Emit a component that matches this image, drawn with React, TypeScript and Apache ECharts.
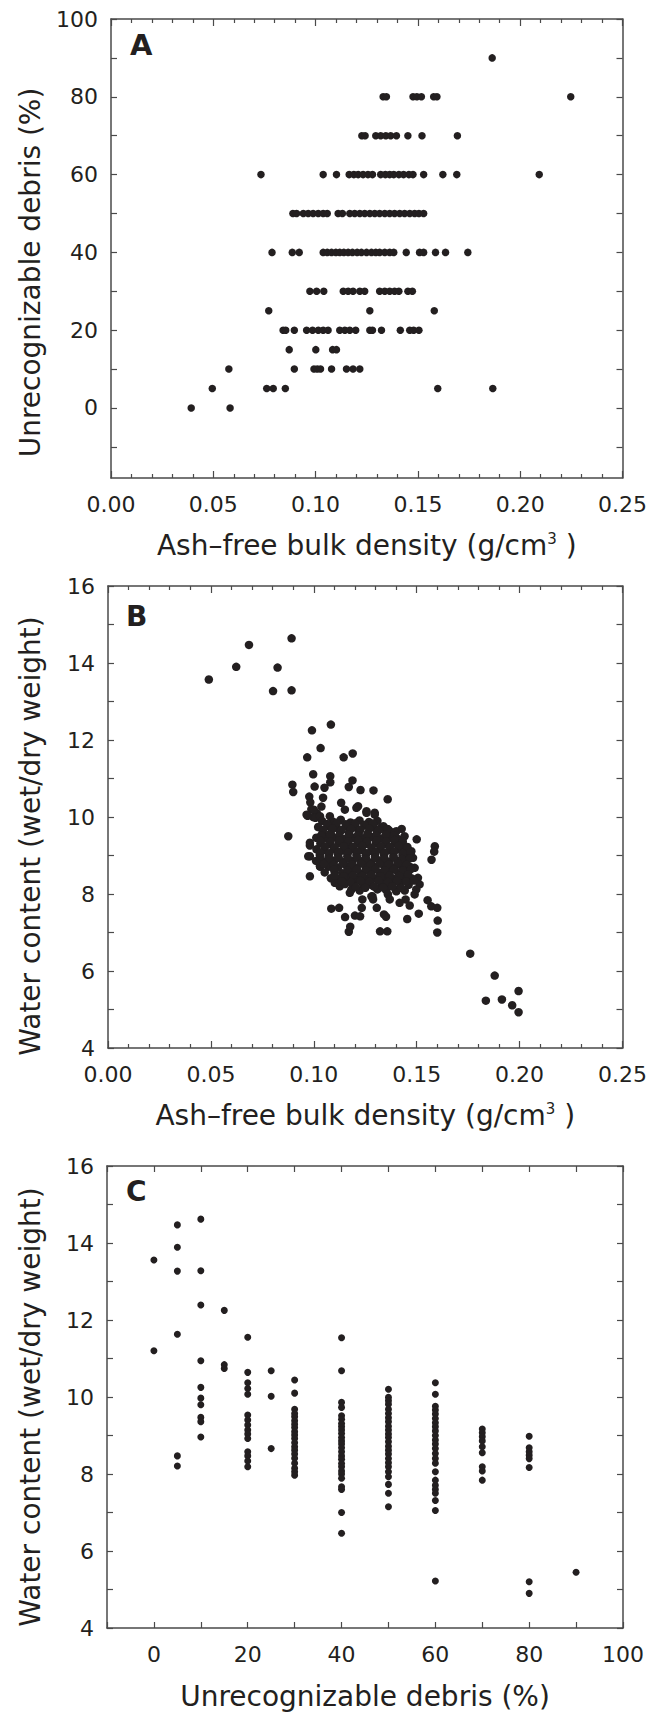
import React, { useEffect, useRef } from 'react';
import * as echarts from 'echarts';

const FONT = '"DejaVu Sans", "Liberation Sans", Arial, sans-serif';
const INK = '#231f20';
const LINE = '#4a4a4a';

// ---------- Panel A: unrecognizable debris (%) vs ash-free bulk density ----------
const debrisLevelsA = [0, 5, 10, 15, 20, 25, 30, 40, 50, 60, 70, 80, 90];
const densityByLevelA = [
  [0.0392, 0.0582],
  [0.0495, 0.0761, 0.0793, 0.0852, 0.1597, 0.1866],
  [0.0576, 0.0896, 0.0992, 0.1008, 0.1024, 0.1078, 0.1151, 0.1183, 0.1216],
  [0.0871, 0.1001, 0.1083, 0.1102],
  [0.0841, 0.0854, 0.0896, 0.0956, 0.0985, 0.1013, 0.1037, 0.1061, 0.1118, 0.1143, 0.1167, 0.1196, 0.1265, 0.1278, 0.1322, 0.1414, 0.146, 0.1479, 0.1505],
  [0.0771, 0.1265, 0.158],
  [0.0972, 0.1005, 0.104, 0.1135, 0.1159, 0.1183, 0.1216, 0.124, 0.1313, 0.1338, 0.1362, 0.1386, 0.1407, 0.1451, 0.1473],
  [0.0787, 0.0886, 0.092, 0.1037, 0.1057, 0.1078, 0.1099, 0.1118, 0.1138, 0.1159, 0.118, 0.1203, 0.1224, 0.1249, 0.1273, 0.1294, 0.1313, 0.1338, 0.1362, 0.1382, 0.1443, 0.1508, 0.1528, 0.1586, 0.1635, 0.1744],
  [0.0889, 0.0907, 0.094, 0.0964, 0.0988, 0.1013, 0.1037, 0.1057, 0.111, 0.1131, 0.1167, 0.1191, 0.1216, 0.124, 0.1265, 0.1289, 0.1313, 0.1338, 0.1362, 0.1386, 0.1411, 0.1435, 0.146, 0.1484, 0.1505, 0.1528],
  [0.0733, 0.1037, 0.1102, 0.1164, 0.1187, 0.1208, 0.1232, 0.1256, 0.1278, 0.1318, 0.1341, 0.1362, 0.1382, 0.1407, 0.143, 0.1456, 0.1476, 0.1528, 0.1622, 0.169, 0.2093],
  [0.1226, 0.1242, 0.1294, 0.1318, 0.1343, 0.1367, 0.1395, 0.1451, 0.152, 0.1693],
  [0.133, 0.1346, 0.1476, 0.1495, 0.1517, 0.1577, 0.1593, 0.2247],
  [0.1863],
];

// ---------- Panel B: water content vs ash-free bulk density ([density, water]) ----------
const waterVsDensityB: [number, number][] = [
  [0.049, 13.57], [0.0623, 13.9], [0.0685, 14.47], [0.0824, 13.88], [0.0802, 13.27], [0.0892, 14.64], [0.0892, 13.29],
  [0.0876, 9.5], [0.1083, 12.4], [0.0991, 12.25], [0.1033, 11.79], [0.0968, 11.55], [0.1145, 11.55], [0.1189, 11.65],
  [0.0997, 11.11], [0.0896, 10.84], [0.09, 10.65], [0.108, 11.06], [0.108, 10.9], [0.1004, 10.79], [0.1052, 10.76],
  [0.1188, 10.95], [0.117, 10.78], [0.1227, 10.7], [0.129, 10.69], [0.1359, 10.46], [0.0978, 10.53], [0.0983, 10.38],
  [0.1045, 10.5], [0.1133, 10.37], [0.097, 10.03], [0.0988, 10.2], [0.1015, 10.1], [0.1037, 10.27], [0.0997, 10.0],
  [0.0981, 9.26], [0.0981, 8.98], [0.0981, 8.46], [0.1031, 8.71], [0.1102, 8.55],
  [0.176, 6.45], [0.1879, 5.88], [0.1836, 5.23], [0.1914, 5.26], [0.1964, 5.11], [0.1995, 5.48], [0.1995, 4.93],
  [0.1588, 9.24], [0.1585, 9.1], [0.1572, 8.89], [0.16, 7.64], [0.1602, 7.31], [0.16, 7.0], [0.1571, 7.68],
  [0.1553, 7.84], [0.151, 7.49], [0.1454, 7.35], [0.1322, 7.03], [0.1357, 7.03], [0.117, 7.02], [0.1177, 7.15],
  [0.1152, 7.4], [0.12, 7.44], [0.1225, 7.42], [0.1233, 7.64], [0.1085, 7.62], [0.1123, 7.64], [0.1306, 7.64],
  [0.1341, 7.47], [0.1351, 7.41], [0.15, 9.42], [0.1427, 9.69], [0.143, 9.33], [0.1285, 7.94], [0.1401, 8.07],
  [0.1215, 10.28], [0.1256, 10.15], [0.1296, 10.11], [0.1328, 9.72], [0.1369, 9.63], [0.1401, 9.63], [0.1441, 9.5],
  [0.1474, 9.11], [0.1482, 8.94], [0.149, 8.68], [0.1506, 8.42], [0.1514, 8.25], [0.1498, 8.12], [0.149, 7.99],
  [0.1446, 7.86], [0.1466, 7.7], [0.1417, 7.77], [0.136, 7.99], [0.1369, 7.86], [0.128, 7.94], [0.1288, 7.86],
  [0.1236, 7.86], [0.1175, 8.03], [0.1126, 8.2], [0.1102, 8.29], [0.0965, 10.06], [0.1, 10.19], [0.1008, 9.98],
  [0.103, 10.02], [0.0981, 9.33], [0.0973, 8.98], [0.103, 8.72], [0.1078, 10.02], [0.1151, 10.19], [0.1207, 10.24],
  [0.1256, 10.11], [0.1296, 10.06], [0.1361, 9.68], [0.1385, 9.5],
  [0.104, 9.9], [0.1093, 9.88], [0.1131, 9.93], [0.1178, 9.86], [0.1222, 9.91], [0.1268, 9.87], [0.1309, 9.9],
  [0.1021, 9.74], [0.1068, 9.77], [0.1112, 9.72], [0.1158, 9.76], [0.1203, 9.73], [0.1248, 9.78], [0.1292, 9.74], [0.1338, 9.76],
  [0.1043, 9.61], [0.1082, 9.58], [0.1127, 9.62], [0.1171, 9.59], [0.1219, 9.6], [0.1262, 9.57], [0.1307, 9.62], [0.1352, 9.58], [0.1393, 9.6],
  [0.1012, 9.46], [0.1058, 9.44], [0.1101, 9.47], [0.1149, 9.43], [0.1193, 9.46], [0.1238, 9.45], [0.1283, 9.48], [0.1328, 9.44], [0.1371, 9.46], [0.1409, 9.43],
  [0.1032, 9.31], [0.1079, 9.29], [0.1122, 9.32], [0.1168, 9.28], [0.1212, 9.31], [0.1257, 9.3], [0.1302, 9.33], [0.1348, 9.29], [0.1392, 9.31], [0.1433, 9.28],
  [0.1013, 9.16], [0.1052, 9.14], [0.1098, 9.17], [0.1142, 9.13], [0.1188, 9.16], [0.1233, 9.15], [0.1279, 9.12], [0.1322, 9.17], [0.1369, 9.14], [0.1412, 9.16], [0.1452, 9.13],
  [0.1029, 9.01], [0.1072, 8.99], [0.1118, 9.02], [0.1163, 8.98], [0.1207, 9.01], [0.1252, 9.0], [0.1297, 8.97], [0.1341, 9.02], [0.1387, 8.99], [0.1431, 9.01], [0.1463, 8.98],
  [0.1011, 8.86], [0.1053, 8.84], [0.1099, 8.87], [0.1142, 8.83], [0.1189, 8.86], [0.1231, 8.85], [0.1278, 8.82], [0.1322, 8.87], [0.1368, 8.84], [0.1409, 8.86], [0.1449, 8.83],
  [0.1072, 8.71], [0.1119, 8.69], [0.1161, 8.72], [0.1208, 8.68], [0.1251, 8.71], [0.1299, 8.7], [0.1342, 8.73], [0.1389, 8.69], [0.1428, 8.71], [0.1468, 8.7],
  [0.1053, 8.56], [0.1141, 8.54], [0.1187, 8.57], [0.1229, 8.53], [0.1278, 8.56], [0.1321, 8.55], [0.1368, 8.58], [0.1411, 8.54], [0.1452, 8.56],
  [0.1083, 8.41], [0.1121, 8.39], [0.1168, 8.42], [0.1211, 8.38], [0.1259, 8.41], [0.1302, 8.4], [0.1348, 8.43], [0.1391, 8.39], [0.1437, 8.41], [0.1478, 8.4],
  [0.1152, 8.26], [0.1193, 8.24], [0.1238, 8.27], [0.1281, 8.23], [0.1329, 8.26], [0.1372, 8.25], [0.1418, 8.28], [0.1461, 8.24],
  [0.1182, 8.11], [0.1223, 8.09], [0.1309, 8.12], [0.1352, 8.1], [0.1398, 8.11], [0.1442, 8.09],
  [0.1065, 9.82], [0.1112, 9.85], [0.1155, 9.81], [0.1201, 9.84], [0.1246, 9.8], [0.1287, 9.83],
  [0.1045, 9.67], [0.1091, 9.7], [0.1135, 9.66], [0.1181, 9.69], [0.1226, 9.67], [0.127, 9.7], [0.1315, 9.66], [0.1357, 9.69],
  [0.1036, 9.52], [0.1079, 9.55], [0.1125, 9.51], [0.1171, 9.54], [0.1214, 9.52], [0.1261, 9.55], [0.1305, 9.51], [0.135, 9.54], [0.1392, 9.52],
  [0.1034, 9.38], [0.1081, 9.36], [0.1124, 9.39], [0.1169, 9.37], [0.1216, 9.4], [0.1259, 9.36], [0.1305, 9.39], [0.1351, 9.37], [0.1393, 9.4], [0.1432, 9.37],
  [0.1054, 9.23], [0.1101, 9.21], [0.1145, 9.24], [0.119, 9.22], [0.1235, 9.25], [0.1281, 9.21], [0.1326, 9.24], [0.1369, 9.22], [0.1413, 9.25], [0.1455, 9.22],
  [0.1031, 9.08], [0.1076, 9.06], [0.112, 9.09], [0.1166, 9.07], [0.1211, 9.1], [0.1256, 9.06], [0.1301, 9.09], [0.1345, 9.07], [0.139, 9.1], [0.1434, 9.06], [0.147, 9.08],
  [0.1032, 8.93], [0.1075, 8.91], [0.1121, 8.94], [0.1165, 8.92], [0.121, 8.95], [0.1254, 8.91], [0.1299, 8.94], [0.1344, 8.92], [0.1388, 8.95], [0.1429, 8.91], [0.1467, 8.93],
  [0.1049, 8.78], [0.1096, 8.76], [0.1141, 8.79], [0.1186, 8.77], [0.123, 8.8], [0.1275, 8.76], [0.1319, 8.79], [0.1364, 8.77], [0.1408, 8.8], [0.1451, 8.76],
  [0.1098, 8.63], [0.1164, 8.61], [0.1209, 8.64], [0.1253, 8.62], [0.1299, 8.65], [0.1344, 8.61], [0.1389, 8.64], [0.1433, 8.62], [0.1472, 8.65],
  [0.1101, 8.48], [0.1145, 8.46], [0.119, 8.49], [0.1235, 8.47], [0.128, 8.5], [0.1324, 8.46], [0.1369, 8.49], [0.1414, 8.47], [0.1458, 8.5],
  [0.1136, 8.33], [0.118, 8.31], [0.1226, 8.34], [0.127, 8.32], [0.1315, 8.35], [0.136, 8.31], [0.1404, 8.34], [0.1449, 8.32], [0.1487, 8.35],
  [0.1204, 8.18], [0.125, 8.16], [0.1293, 8.19], [0.1337, 8.17], [0.1381, 8.2], [0.1424, 8.16],
];

// ---------- Panel C: water content vs unrecognizable debris ----------
const debrisLevelsC = [0, 5, 10, 15, 20, 25, 30, 40, 50, 60, 70, 80, 90];
const waterByLevelC = [
  [13.56, 11.2],
  [14.47, 13.89, 13.27, 11.63, 8.47, 8.21],
  [14.62, 13.28, 12.39, 10.94, 10.25, 9.97, 9.8, 9.47, 9.36, 8.96],
  [12.25, 10.84, 10.74],
  [11.55, 10.64, 10.37, 10.22, 10.07, 9.53, 9.4, 9.27, 9.14, 9.04, 8.92, 8.58, 8.47, 8.34, 8.19],
  [10.68, 10.02, 8.66],
  [10.44, 10.1, 9.68, 9.57, 9.49, 9.38, 9.29, 9.21, 9.1, 9.01, 8.92, 8.81, 8.71, 8.62, 8.52, 8.41, 8.28, 8.15, 8.06, 7.97],
  [11.54, 10.68, 9.86, 9.73, 9.51, 9.42, 9.31, 9.23, 9.14, 9.05, 8.95, 8.86, 8.78, 8.68, 8.58, 8.47, 8.38, 8.27, 8.19, 8.08, 8.0, 7.89, 7.67, 7.6, 7.0, 6.46],
  [10.2, 9.99, 9.9, 9.81, 9.68, 9.57, 9.46, 9.36, 9.24, 9.14, 9.04, 8.95, 8.84, 8.72, 8.62, 8.52, 8.4, 8.29, 8.19, 8.06, 7.93, 7.73, 7.5, 7.15],
  [10.37, 10.07, 9.76, 9.66, 9.56, 9.44, 9.33, 9.23, 9.12, 9.0, 8.88, 8.78, 8.66, 8.53, 8.4, 8.28, 8.06, 7.84, 7.71, 7.6, 7.5, 7.31, 7.05, 5.22],
  [9.17, 9.07, 8.97, 8.86, 8.71, 8.55, 8.19, 8.08, 7.84],
  [8.98, 8.68, 8.58, 8.49, 8.4, 8.17, 5.2, 4.9],
  [5.45],
];

// tick label lists
const debrisTicksA = [0, 20, 40, 60, 80, 100];
const debrisMinorTicksA = [-10, 0, 10, 20, 30, 40, 50, 60, 70, 80, 90, 100];

const pointsA: [number, number][] = [];
debrisLevelsA.forEach((lvl, i) => densityByLevelA[i].forEach((d) => pointsA.push([d, lvl])));
const pointsC: [number, number][] = [];
debrisLevelsC.forEach((lvl, i) => waterByLevelC[i].forEach((w) => pointsC.push([lvl, w])));

const labelStyle = { fontSize: 22, color: INK, fontFamily: FONT };
function nameStyle(padding: number[]) {
  return {
    fontSize: 28,
    color: INK,
    fontFamily: FONT,
    padding,
    rich: { sup: { fontSize: 15, lineHeight: 15, verticalAlign: 'top', color: INK, fontFamily: FONT } },
  };
}
const axisLine = { show: true, onZero: false, lineStyle: { color: LINE, width: 1.5 } };
const tickLine = { color: LINE, width: 1.2 };

function xAxes(grid: number, min: number, max: number, interval: number, opts: any) {
  const base = {
    type: 'value', gridIndex: grid, min, max, interval,
    axisLine, splitLine: { show: false }, minorSplitLine: { show: false },
    axisTick: { show: true, inside: true, length: opts.tickLen, lineStyle: tickLine },
    minorTick: opts.minor ? { show: true, splitNumber: opts.minor, length: opts.minorLen, lineStyle: tickLine } : { show: false },
  };
  return [
    {
      ...base, position: 'bottom',
      axisLabel: { show: true, margin: 15, ...labelStyle, formatter: opts.fmt, showMinLabel: true, showMaxLabel: true },
      name: opts.name, nameLocation: 'middle', nameGap: opts.nameGap, nameTextStyle: nameStyle([0, 0, 0, 0]),
    },
    { ...base, position: 'top', axisLabel: { show: false } },
  ];
}

function yAxes(grid: number, min: number, max: number, opts: any) {
  const base: any = {
    type: 'value', gridIndex: grid, min, max,
    axisLine, splitLine: { show: false }, minorSplitLine: { show: false },
  };
  if (opts.custom) {
    base.axisTick = { show: true, inside: true, length: 6, lineStyle: tickLine, customValues: opts.tickValues };
  } else {
    base.interval = opts.interval;
    base.axisTick = { show: true, inside: true, length: 6, lineStyle: tickLine };
    base.minorTick = { show: true, splitNumber: opts.minor, length: 6, lineStyle: tickLine };
  }
  const label: any = { show: true, margin: 13, ...labelStyle, showMinLabel: true, showMaxLabel: true };
  if (opts.custom) label.customValues = opts.labelValues;
  return [
    {
      ...base, position: 'left', axisLabel: label,
      name: opts.name, nameLocation: 'middle', nameGap: opts.nameGap, nameTextStyle: nameStyle([0, opts.shift * 2, 0, 0]),
    },
    { ...base, position: 'right', axisLabel: { show: false } },
  ];
}

const densityName = 'Ash\u2013free bulk density (g/cm{sup|3} )';

const option: any = {
  animation: false,
  backgroundColor: '#ffffff',
  grid: [
    { left: 111, top: 19, width: 513, height: 459 },
    { left: 108, top: 586, width: 516, height: 462 },
    { left: 107, top: 1166, width: 516, height: 462 },
  ],
  xAxis: [
    ...xAxes(0, 0, 0.25, 0.05, { tickLen: 7, minor: 5, minorLen: 4, fmt: (v: number) => v.toFixed(2), name: densityName, nameGap: 53 }),
    ...xAxes(1, 0, 0.25, 0.05, { tickLen: 7, minor: 5, minorLen: 4, fmt: (v: number) => v.toFixed(2), name: densityName, nameGap: 53 }),
    ...xAxes(2, -10, 100, 10, { tickLen: 6, minor: 0, fmt: (v: number) => (Math.round(v) % 20 === 0 ? String(Math.round(v)) : ''), name: 'Unrecognizable debris (%)', nameGap: 54 }),
  ],
  yAxis: [
    ...yAxes(0, -18, 100, { custom: true, tickValues: debrisMinorTicksA, labelValues: debrisTicksA, name: 'Unrecognizable debris (%)', nameGap: 67, shift: 24 }),
    ...yAxes(1, 4, 16, { interval: 2, minor: 2, name: 'Water content (wet/dry weight)', nameGap: 64, shift: 19 }),
    ...yAxes(2, 4, 16, { interval: 2, minor: 2, name: 'Water content (wet/dry weight)', nameGap: 63, shift: 10 }),
  ],
  series: [
    { type: 'scatter', xAxisIndex: 0, yAxisIndex: 0, data: pointsA, symbol: 'circle', symbolSize: 7.5, itemStyle: { color: INK, opacity: 1 }, silent: true },
    { type: 'scatter', xAxisIndex: 2, yAxisIndex: 2, data: waterVsDensityB, symbol: 'circle', symbolSize: 8.5, itemStyle: { color: INK, opacity: 1 }, silent: true },
    { type: 'scatter', xAxisIndex: 4, yAxisIndex: 4, data: pointsC, symbol: 'circle', symbolSize: 7, itemStyle: { color: INK, opacity: 1 }, silent: true },
  ],
  graphic: [
    { type: 'text', left: 130, top: 30, style: { text: 'A', fontSize: 29, fontWeight: 'bold', fill: INK, fontFamily: FONT } },
    { type: 'text', left: 126, top: 602, style: { text: 'B', fontSize: 28, fontWeight: 'bold', fill: INK, fontFamily: FONT } },
    { type: 'text', left: 126, top: 1177, style: { text: 'C', fontSize: 28, fontWeight: 'bold', fill: INK, fontFamily: FONT } },
  ],
};

export default function App() {
  const ref = useRef<HTMLDivElement>(null);
  useEffect(() => {
    const chart = echarts.init(ref.current!, null, { renderer: 'svg' });
    chart.setOption(option);
    return () => chart.dispose();
  }, []);
  return (
    <div
      ref={ref}
      style={{ position: 'absolute', left: 0, top: 0, width: 650, height: 1717, background: '#ffffff' }}
    />
  );
}
